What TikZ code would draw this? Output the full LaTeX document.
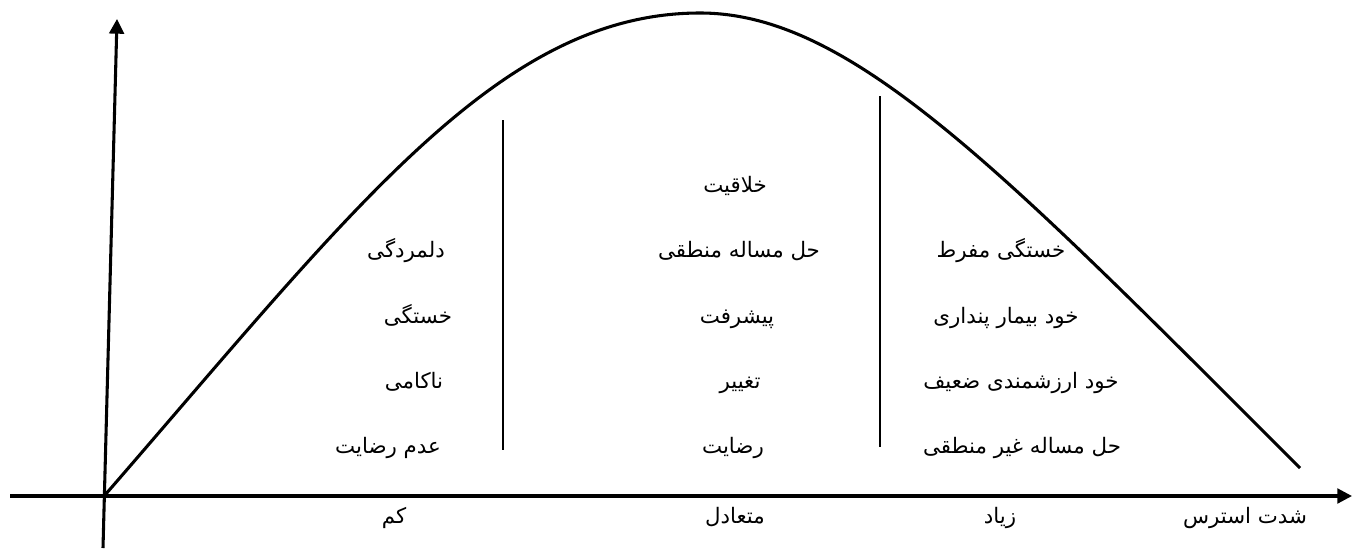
\documentclass[tikz,border=0pt]{standalone}
\usepackage{fontspec}
\usetikzlibrary{arrows.meta}
\newfontfamily\arabicfont[Script=Arabic]{DejaVu Sans}
\TeXXeTstate=1
\newcommand{\fa}[1]{\arabicfont\beginR #1\endR}
\tikzset{
  axis/.style={line width=2.3pt,-{Triangle[length=11pt,width=11pt]}},
  curveline/.style={line width=2.3pt,line join=round},
  divider/.style={line width=1.4pt},
  lbl/.style={anchor=base,inner sep=0pt,font=\fontsize{16pt}{19pt}\arabicfont}
}
\begin{document}
\begin{tikzpicture}[x=0.75pt,y=-0.75pt]
\useasboundingbox (0,0) rectangle (1353,550);
% axes
\coordinate (xs) at (10,496);
\coordinate (xe) at (1352,496);
\coordinate (ys) at (103,548);
\coordinate (ye) at (117,19);
\draw[axis] (xs) -- (xe);
\draw[axis] (ys) -- (ye);
% curve
\coordinate (c0) at (105,495);
\coordinate (cp) at (700,13);
\coordinate (c1) at (1300,468);
\draw[curveline] (c0) .. controls (355,207) and (500,13) .. (cp)
                      .. controls (850,13) and (1000,168) .. (c1);
% dividers
\coordinate (d1t) at (503,120); \coordinate (d1b) at (503,450);
\coordinate (d2t) at (880,96); \coordinate (d2b) at (880,447);
\draw[divider] (d1t) -- (d1b);
\draw[divider] (d2t) -- (d2b);
% left column
\node[lbl] (l1) at (406,257) {\fa{دلمردگی}};
\node[lbl] (l2) at (418,323) {\fa{خستگی}};
\node[lbl] (l3) at (414,388) {\fa{ناکامی}};
\node[lbl] (l4) at (388,453) {\fa{عدم رضایت}};
% middle column
\node[lbl] (m0) at (735,192) {\fa{خلاقیت}};
\node[lbl] (m1) at (739,257) {\fa{حل مساله منطقی}};
\node[lbl] (m2) at (737,323) {\fa{پیشرفت}};
\node[lbl] (m3) at (740,388) {\fa{تغییر}};
\node[lbl] (m4) at (733,453) {\fa{رضایت}};
% right column
\node[lbl] (r1) at (1001,257) {\fa{خستگی مفرط}};
\node[lbl] (r2) at (1006,323) {\fa{خود بیمار پنداری}};
\node[lbl] (r3) at (1021,388) {\fa{خود ارزشمندی ضعیف}};
\node[lbl] (r4) at (1022,453) {\fa{حل مساله غیر منطقی}};
% axis labels
\node[lbl] (a1) at (394,523) {\fa{کم}};
\node[lbl] (a2) at (735,523) {\fa{متعادل}};
\node[lbl] (a3) at (1000,523) {\fa{زیاد}};
\node[lbl] (a4) at (1245,523) {\fa{شدت استرس}};
\end{tikzpicture}
\end{document}
